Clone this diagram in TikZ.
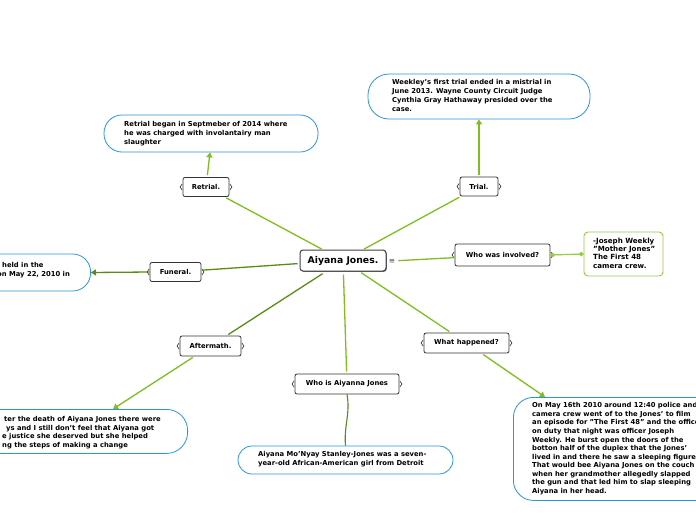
\documentclass[tikz,border=0pt]{standalone}
\usepackage{fontspec}
\setmainfont{DejaVu Sans}
\usetikzlibrary{arrows.meta,shadows}
\definecolor{lgreen}{RGB}{128,190,30}
\definecolor{dgreen}{RGB}{88,140,20}
\definecolor{bblue}{RGB}{40,150,220}
\definecolor{jgreen}{RGB}{150,205,60}
\tikzset{
  topic/.style={draw=black!80, line width=0.8pt, rounded corners=2pt, fill=white,
    font=\bfseries\fontsize{6.8}{8}\selectfont, minimum height=19, inner sep=0pt,
    append after command={
      \pgfextra{\draw[black!80,line width=0.6pt] ([xshift=-0.5,yshift=-3]\tikzlastnode.west) -- ([xshift=-2.5]\tikzlastnode.west) -- ([xshift=-0.5,yshift=3]\tikzlastnode.west);
      \draw[black!80,line width=0.6pt] ([xshift=0.5,yshift=-3]\tikzlastnode.east) -- ([xshift=2.5]\tikzlastnode.east) -- ([xshift=0.5,yshift=3]\tikzlastnode.east);}}},
  bubble/.style={draw=bblue, line width=0.8pt, fill=white, inner sep=0pt},
  btext/.style={font=\bfseries\fontsize{6.8}{8.7}\selectfont, align=left, inner sep=0pt},
  spoke/.style={lgreen, line width=1.3pt},
  dspoke/.style={dgreen, line width=1.3pt},
  arr/.style={-{Triangle[length=5pt,width=6pt]}},
}
\begin{document}
\begin{tikzpicture}[x=1pt,y=-1pt]
\useasboundingbox (0,0) rectangle (696,520);
\fill[white] (0,0) rectangle (696,520);

% bubbles
\node[bubble, rounded corners=21pt, minimum width=222, minimum height=45] (trialb) at (479,96.5) {};
\node[btext, anchor=north west, font=\bfseries\fontsize{6.8}{9}\selectfont] (trialt) at (392,79.5) {Weekley's first trial ended in a mistrial in\\June 2013. Wayne County Circuit Judge\\Cynthia Gray Hathaway presided over the\\case.};

\node[bubble, rounded corners=18pt, minimum width=214, minimum height=37] (retrialb) at (211,133.5) {};
\node[btext, anchor=north west] (retrialt) at (124,121.5) {Retrial began in Septmeber of 2014 where\\he was charged with involantairy man\\slaughter};

\node[bubble, rounded corners=18pt, minimum width=200, minimum height=37, anchor=east] (funeralb) at (91,272.5) {};
\node[btext, anchor=base west] (funeralt1) at (2,267.5) {held in the};
\node[btext, anchor=base west] (funeralt2) at (-3,276.5) {on May 22, 2010 in};

\node[bubble, rounded corners=21pt, minimum width=300, minimum height=44, anchor=north east] (afterb) at (188,409) {};
\node[btext, anchor=base west] (aftert1) at (4,421.5) {ter the death of Aiyana Jones there were};
\node[btext, anchor=base west] (aftert2) at (6,430) {ys and I still don't feel that Aiyana got};
\node[btext, anchor=base west] (aftert3) at (2,438.5) {e justice she deserved but she helped};
\node[btext, anchor=base west] (aftert4) at (2,447) {ng the steps of making a change};

\node[bubble, rounded corners=14pt, minimum width=215, minimum height=28] (whob) at (345.5,460) {};
\node[btext, anchor=north west] (whot) at (258,451.5) {Aiyana Mo'Nyay Stanley-Jones was a seven-\\year-old African-American girl from Detroit};

\node[bubble, rounded corners=20pt, minimum width=260, minimum height=103, anchor=north west] (whatb) at (513,397) {};
\node[btext, anchor=north west, font=\bfseries\fontsize{6.8}{8.55}\selectfont] (whatt) at (532,402.5) {On May 16th 2010 around 12:40 police and\\camera crew went of to the Jones' to film\\an episode for "The First 48" and the officer\\on duty that night was officer Joseph\\Weekly. He burst open the doors of the\\botton half of the duplex that the Jones'\\lived in and there he saw a sleeping figure\\That would bee Aiyana Jones on the couch\\when her grandmother allegedly slapped\\the gun and that led him to slap sleeping\\Aiyana in her head.};

% joseph box
\node[draw=jgreen, line width=0.9pt, rounded corners=4pt, minimum width=79, minimum height=44, fill=white] (joseph) at (623.5,254) {};
\node[btext, anchor=north west, font=\bfseries\fontsize{7.1}{8.4}\selectfont] (josepht) at (593,237.5) {-Joseph Weekly\\"Mother Jones"\\The First 48\\camera crew.};

% central and topics
\node[draw=black!75, line width=1pt, rounded corners=3pt, fill=white, minimum width=86, minimum height=21, inner sep=0pt,
  font=\bfseries\fontsize{9.3}{10}\selectfont, drop shadow={shadow xshift=0.8pt, shadow yshift=-0.8pt, fill=black!60, opacity=1}] (central) at (343,260.5) {Aiyana Jones.};
\node[font=\fontsize{7.5}{8}\selectfont, inner sep=1pt, text=black!70] (menu) at (392,261) {\char"2261};

\node[topic, minimum width=38] (trial) at (479,186.5) {Trial.};
\node[topic, minimum width=46] (retrial) at (206,187) {Retrial.};
\node[topic, minimum width=51] (funeral) at (175.5,272) {Funeral.};
\node[topic, minimum width=95, minimum height=22] (involved) at (502.5,255) {Who was involved?};
\node[topic, minimum width=61, minimum height=20] (aftermath) at (210.5,346) {Aftermath.};
\node[topic, minimum width=85, minimum height=20] (whathap) at (466.5,343) {What happened?};
\node[topic, minimum width=104, minimum height=20] (whois) at (347,384) {Who is Aiyanna Jones};

% connectors
\draw[spoke, shorten <=1pt, shorten >=2pt] (central) -- (trial);
\draw[spoke, shorten <=1pt, shorten >=2pt] (central) -- (retrial);
\draw[dspoke, shorten <=2pt, shorten >=1pt] (central) -- (funeral);
\draw[dspoke, shorten <=4pt, shorten >=2pt] (central) -- (aftermath);
\draw[spoke, shorten <=3pt, shorten >=2pt] (central) -- (whois);
\draw[spoke, shorten <=2pt, shorten >=2pt] (central) -- (whathap);
\draw[spoke, shorten <=2pt] (menu) -- (involved);
\draw[jgreen, line width=1.2pt, {Circle[length=4.5pt]}-{Circle[length=4.5pt]}] (involved.east) -- (joseph.west);

\draw[spoke, arr, shorten <=2pt] (trial) -- (trialb);
\draw[spoke, arr, shorten <=2pt] (retrial) -- ([xshift=-1]retrialb.south);
\draw[dspoke, arr] (funeral.west) -- (funeralb.east);
\draw[spoke, arr, shorten <=2pt] (aftermath) -- ([xshift=-75]afterb.north east);
\draw[spoke, arr, shorten <=2pt] (whathap) -- ([xshift=32]whatb.north west);
\draw[dspoke, line width=1.1pt] (whois.south) to[out=-80,in=95] (whob.north);
\end{tikzpicture}
\end{document}
